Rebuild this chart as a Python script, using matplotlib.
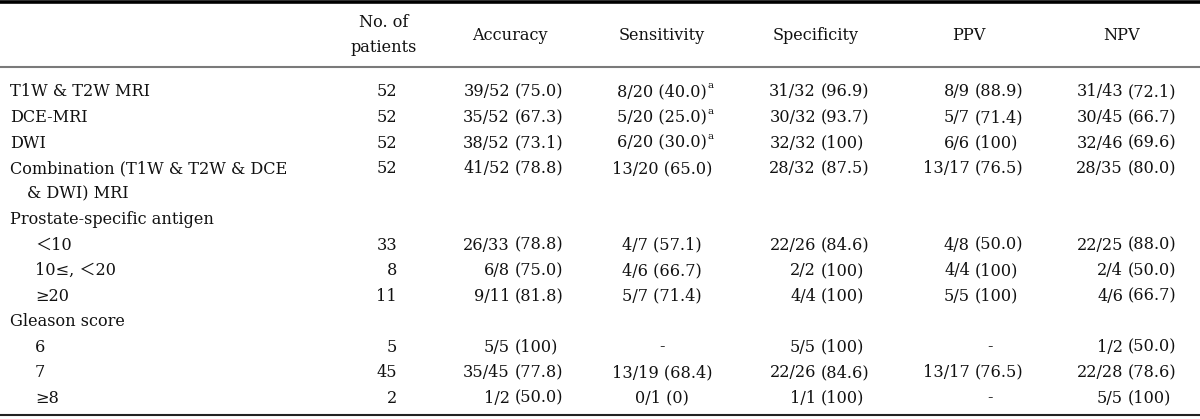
import matplotlib
matplotlib.use('Agg')
import matplotlib.pyplot as plt

FONT = ['DejaVu Serif', 'Noto Sans CJK JP']

COL_HEADERS = ['No. of\npatients', 'Accuracy', 'Sensitivity', 'Specificity', 'PPV', 'NPV']

ROW_LABELS = [
    'T1W & T2W MRI',
    'DCE-MRI',
    'DWI',
    'Combination (T1W & T2W & DCE\n& DWI) MRI',
    'Prostate-specific antigen',
    '＜10',
    '10≤, ＜20',
    '≥20',
    'Gleason score',
    '6',
    '7',
    '≥8',
]
# 0 = top level row, 1 = sub-row (indented)
ROW_LEVEL = [0, 0, 0, 0, 0, 1, 1, 1, 0, 1, 1, 1]

PATIENTS = ['52', '52', '52', '52', None, '33', '8', '11', None, '5', '45', '2']
ACCURACY = ['39/52 (75.0)', '35/52 (67.3)', '38/52 (73.1)', '41/52 (78.8)', None,
            '26/33 (78.8)', '6/8 (75.0)', '9/11 (81.8)', None,
            '5/5 (100)', '35/45 (77.8)', '1/2 (50.0)']
SENSITIVITY = ['8/20 (40.0)', '5/20 (25.0)', '6/20 (30.0)', '13/20 (65.0)', None,
               '4/7 (57.1)', '4/6 (66.7)', '5/7 (71.4)', None,
               '-', '13/19 (68.4)', '0/1 (0)']
SENS_NOTE = ['a', 'a', 'a', None, None, None, None, None, None, None, None, None]
SPECIFICITY = ['31/32 (96.9)', '30/32 (93.7)', '32/32 (100)', '28/32 (87.5)', None,
               '22/26 (84.6)', '2/2 (100)', '4/4 (100)', None,
               '5/5 (100)', '22/26 (84.6)', '1/1 (100)']
PPV = ['8/9 (88.9)', '5/7 (71.4)', '6/6 (100)', '13/17 (76.5)', None,
       '4/8 (50.0)', '4/4 (100)', '5/5 (100)', None,
       '-', '13/17 (76.5)', '-']
NPV = ['31/43 (72.1)', '30/45 (66.7)', '32/46 (69.6)', '28/35 (80.0)', None,
       '22/25 (88.0)', '2/4 (50.0)', '4/6 (66.7)', None,
       '1/2 (50.0)', '22/28 (78.6)', '5/5 (100)']

# layout (pixels)
W, H = 1200, 419
FS = 11.6
HEAD_X = [384, 510, 662, 816, 969, 1122]
ROW0 = 92
DY = 25.5
LABEL_X = 10
SUB_X = 35
CONT_X = 27
TXT = '#111111'

fig = plt.figure(figsize=(12, 4.19), dpi=100)
ax = fig.add_axes([0, 0, 1, 1])
ax.set_xlim(0, W)
ax.set_ylim(H, 0)
ax.axis('off')

# rules
ax.plot([0, W], [1.8, 1.8], color='black', lw=2.6, solid_capstyle='butt')
ax.plot([0, W], [67, 67], color='#7a7a7a', lw=1.5, solid_capstyle='butt')
ax.plot([0, W], [415, 415], color='#222222', lw=1.5, solid_capstyle='butt')

# headers
for x, h in zip(HEAD_X, COL_HEADERS):
    ax.text(x, 35, h, ha='center', va='center', fontsize=FS, family=FONT,
            color=TXT, linespacing=1.55)


def put(x, y, s, ha):
    return ax.text(x, y, s, ha=ha, va='center', fontsize=FS, family=FONT, color=TXT)


def put_paren(xp, y, s, dash_x):
    """Fraction right-aligned, percentage in brackets left-aligned at xp."""
    if s is None:
        return
    if s == '-':
        put(dash_x, y, s, 'center')
        return
    frac, pct = s.split(' ', 1)
    put(xp - 5, y, frac, 'right')
    put(xp, y, pct, 'left')


line = 0
for i, label in enumerate(ROW_LABELS):
    y = ROW0 + line * DY
    parts = label.split('\n')
    x0 = SUB_X if ROW_LEVEL[i] else LABEL_X
    put(x0, y, parts[0], 'left')
    for k, extra in enumerate(parts[1:], start=1):
        put(CONT_X, y + k * DY, extra, 'left')

    if PATIENTS[i] is not None:
        put(397, y, PATIENTS[i], 'right')
    put_paren(515, y, ACCURACY[i], 510)
    if SENSITIVITY[i] is not None:
        t = put(662, y, SENSITIVITY[i], 'center')
        if SENS_NOTE[i]:
            ax.annotate(SENS_NOTE[i], xy=(1.01, 1.12), xycoords=t, ha='left', va='top',
                        fontsize=7.5, family=FONT, color=TXT)
    put_paren(821, y, SPECIFICITY[i], 816)
    put_paren(975, y, PPV[i], 990)
    put_paren(1128, y, NPV[i], 1122)
    line += len(parts)

fig.savefig('out.png', dpi=100)
